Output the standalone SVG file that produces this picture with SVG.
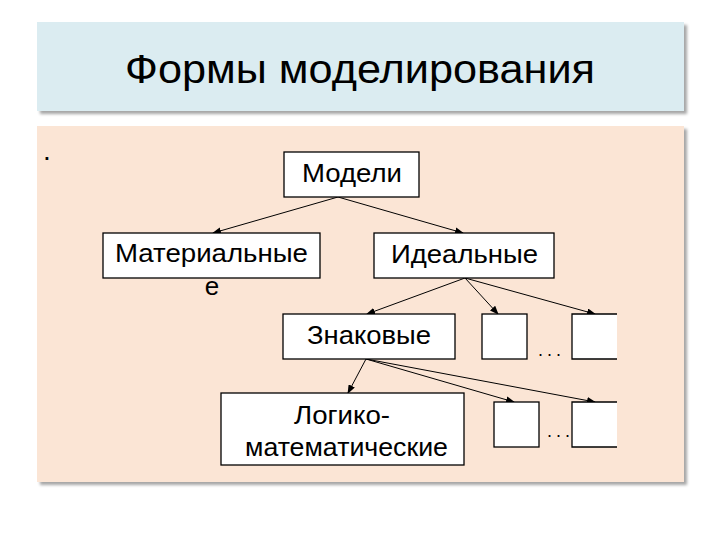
<svg xmlns="http://www.w3.org/2000/svg" width="720" height="540" viewBox="0 0 720 540">
<style>
  text { font-family: "Liberation Sans", Arial, sans-serif; fill: #000; }
  .node rect, .node path { fill: #fff; stroke: #000; stroke-width: 1.3; }
  .lbl { font-size: 26px; text-anchor: middle; }
  .conn line { stroke: #000; stroke-width: 1; marker-end: url(#ah); }
  .dots { font-size: 18px; letter-spacing: 4px; }
</style>
<defs>
  <marker id="ah" markerUnits="userSpaceOnUse" markerWidth="9" markerHeight="7" refX="8" refY="3.5" orient="auto">
    <path d="M0,0 L9,3.5 L0,7 Z" fill="#000"/>
  </marker>
  <filter id="sh" x="-5%" y="-5%" width="110%" height="115%">
    <feDropShadow dx="3" dy="3" stdDeviation="1.5" flood-color="#000" flood-opacity="0.35"/>
  </filter>
</defs>
<rect width="720" height="540" fill="#fff"/>
<g id="title">
  <rect x="37" y="22" width="647" height="89" fill="#dbecf1" filter="url(#sh)"/>
  <text x="360" y="83" font-size="41" text-anchor="middle" textLength="470" lengthAdjust="spacingAndGlyphs">Формы моделирования</text>
</g>
<g id="panel">
  <rect x="37" y="126" width="647" height="356" fill="#fbe5d5" filter="url(#sh)"/>
  <text x="43" y="160" font-size="28">.</text>
</g>
<g class="conn" id="connectors">
  <line x1="338" y1="197" x2="213" y2="233"/>
  <line x1="338" y1="197" x2="463" y2="233"/>
  <line x1="465" y1="278" x2="367" y2="314"/>
  <line x1="465" y1="278" x2="498" y2="314"/>
  <line x1="465" y1="278" x2="595" y2="314"/>
  <line x1="366" y1="359" x2="348" y2="393"/>
  <line x1="366" y1="359" x2="514" y2="402"/>
  <line x1="366" y1="359" x2="595" y2="402"/>
</g>
<g class="node" id="modeli">
  <rect x="284" y="152" width="135" height="45"/>
  <text class="lbl" x="352" y="182" textLength="100" lengthAdjust="spacingAndGlyphs">Модели</text>
</g>
<g class="node" id="materialnye">
  <rect x="103" y="233" width="217" height="45"/>
  <text class="lbl" x="211.5" y="262" textLength="193" lengthAdjust="spacingAndGlyphs">Материальные</text>
  <text class="lbl" x="212" y="295">е</text>
</g>
<g class="node" id="idealnye">
  <rect x="374" y="233" width="180" height="45"/>
  <text class="lbl" x="464.5" y="263" textLength="147" lengthAdjust="spacingAndGlyphs">Идеальные</text>
</g>
<g class="node" id="znakovye">
  <rect x="283" y="314" width="172" height="45"/>
  <text class="lbl" x="369" y="344" textLength="124" lengthAdjust="spacingAndGlyphs">Знаковые</text>
</g>
<g class="node" id="box1">
  <rect x="482" y="314" width="45" height="45"/>
</g>
<g class="node" id="box2">
  <path d="M617,314 H572 V359 H617"/>
</g>
<text class="dots" x="538" y="356">...</text>
<g class="node" id="logiko">
  <rect x="221" y="393" width="243" height="72"/>
  <text class="lbl" x="342" y="424" textLength="96" lengthAdjust="spacingAndGlyphs">Логико-</text>
  <text class="lbl" x="346.5" y="456" textLength="203" lengthAdjust="spacingAndGlyphs">математические</text>
</g>
<g class="node" id="box3">
  <rect x="494" y="402" width="45" height="45"/>
</g>
<g class="node" id="box4">
  <path d="M617,402 H572 V447 H617"/>
</g>
<text class="dots" x="547" y="437">...</text>
</svg>
